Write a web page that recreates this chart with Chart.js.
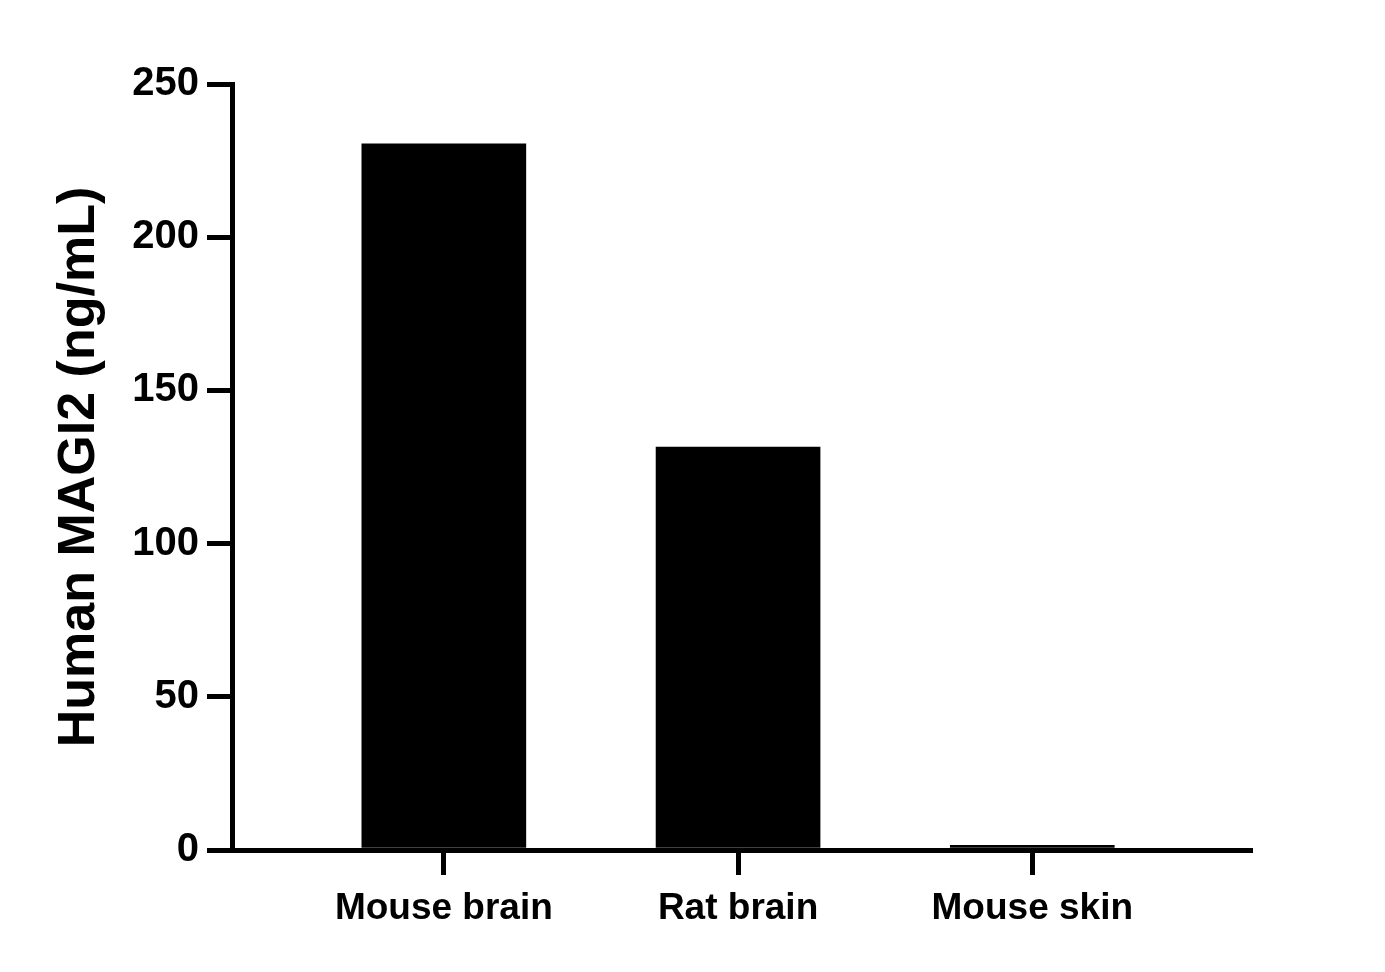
<!DOCTYPE html>
<html>
<head>
<meta charset="utf-8">
<script src="https://cdn.jsdelivr.net/npm/chart.js@4.4.0/dist/chart.umd.min.js"></script>
<style>
    html, body { margin: 0; padding: 0; background: #ffffff; }
    canvas { display: block; }
</style>
</head>
<body>
<canvas id="barChart" width="1385" height="972"></canvas>
<script>
// Chart data
const categories = ['Mouse brain', 'Rat brain', 'Mouse skin'];
const values = [230.5, 131.5, 1.5];
const yTicks = [0, 50, 100, 150, 200, 250];

const FONT = '"Liberation Sans", Arial, sans-serif';

new Chart(document.getElementById('barChart'), {
    type: 'bar',
    data: {
        datasets: [{
            data: values.map((v, i) => ({ x: i, y: v })),
            backgroundColor: '#000000',
            borderColor: '#000000',
            borderWidth: 0,
            barThickness: 164
        }]
    },
    options: {
        responsive: false,
        animation: false,
        layout: { padding: { top: 84, right: 135, left: 0, bottom: 0 } },
        plugins: { legend: { display: false }, tooltip: { enabled: false } },
        scales: {
            x: {
                type: 'linear',
                offset: false,
                min: -0.72,
                max: 2.74,
                afterBuildTicks: (scale) => {
                    scale.ticks = categories.map((c, i) => ({ value: i }));
                },
                afterFit: (scale) => { scale.height = 122; },
                ticks: {
                    callback: (v) => categories[v] ?? '',
                    color: '#000000',
                    padding: 12,
                    maxRotation: 0,
                    autoSkip: false,
                    font: { family: FONT, size: 37, weight: 'bold' }
                },
                grid: {
                    offset: false,
                    drawOnChartArea: false,
                    color: '#000000',
                    lineWidth: 5,
                    tickLength: 25
                },
                border: { color: '#000000', width: 5 }
            },
            y: {
                min: 0,
                max: 250,
                afterBuildTicks: (scale) => {
                    scale.ticks = yTicks.map(v => ({ value: v }));
                },
                afterFit: (scale) => { scale.width = 232; },
                ticks: {
                    color: '#000000',
                    padding: 8,
                    font: { family: FONT, size: 40, weight: 'bold' }
                },
                grid: {
                    drawOnChartArea: false,
                    color: '#000000',
                    lineWidth: 5,
                    tickLength: 25
                },
                border: { color: '#000000', width: 5 },
                title: {
                    display: true,
                    text: 'Human MAGI2 (ng/mL)',
                    color: '#000000',
                    padding: { top: 48, bottom: 0 },
                    font: { family: FONT, size: 52, weight: 'bold' }
                }
            }
        }
    }
});
</script>
</body>
</html>
